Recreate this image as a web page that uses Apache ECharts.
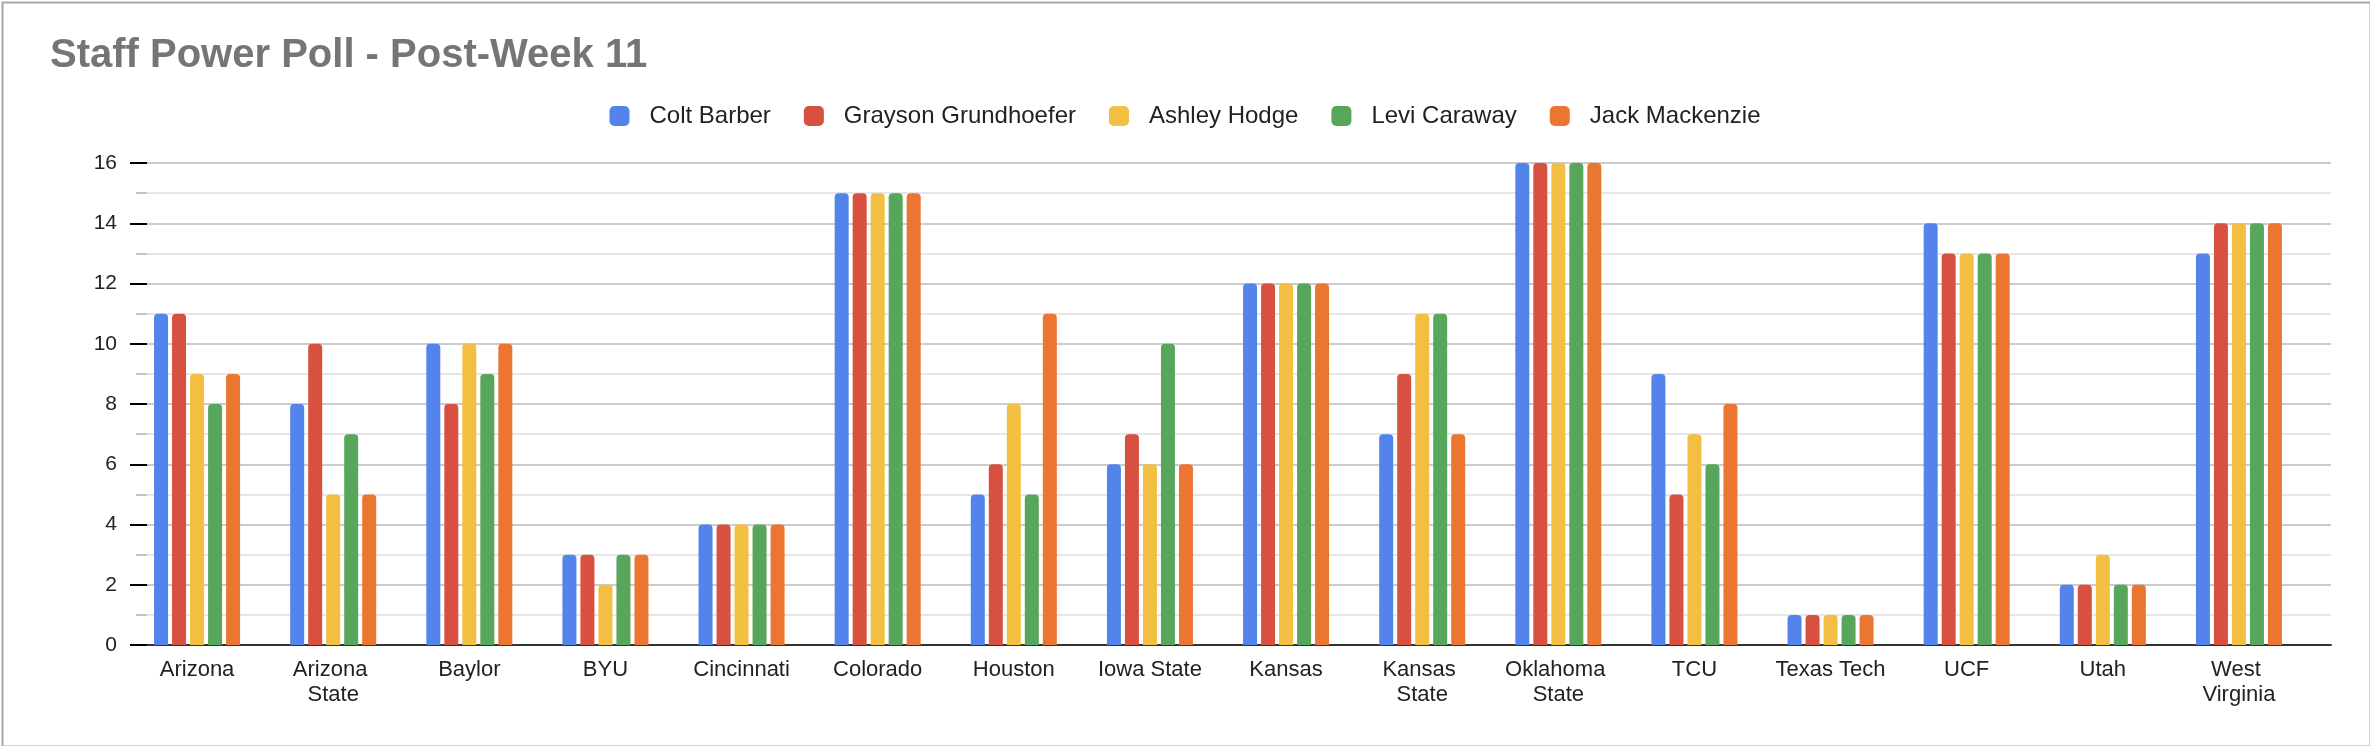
<!DOCTYPE html>
<html>
<head>
<meta charset="utf-8">
<script src="https://cdn.jsdelivr.net/npm/echarts@6/dist/echarts.min.js"></script>
<style>
html,body{margin:0;padding:0;background:#fff;}
#chart{width:2370px;height:746px;}
</style>
</head>
<body>
<div id="chart"></div>
<script>
const categories = ["Arizona","Arizona State","Baylor","BYU","Cincinnati","Colorado","Houston","Iowa State","Kansas","Kansas State","Oklahoma State","TCU","Texas Tech","UCF","Utah","West Virginia"];
const seriesNames = ["Colt Barber","Grayson Grundhoefer","Ashley Hodge","Levi Caraway","Jack Mackenzie"];
const coltBarber         = [11, 8, 10, 3, 4, 15, 5, 6, 12, 7, 16, 9, 1, 14, 2, 13];
const graysonGrundhoefer = [11, 10, 8, 3, 4, 15, 6, 7, 12, 9, 16, 5, 1, 13, 2, 14];
const ashleyHodge        = [9, 5, 10, 2, 4, 15, 8, 6, 12, 11, 16, 7, 1, 13, 3, 14];
const leviCaraway        = [8, 7, 9, 3, 4, 15, 5, 10, 12, 11, 16, 6, 1, 13, 2, 14];
const jackMackenzie      = [9, 5, 10, 3, 4, 15, 11, 6, 12, 7, 16, 8, 1, 13, 2, 14];
const yTicks = [0, 2, 4, 6, 8, 10, 12, 14, 16];
const colors = ["#5384EC", "#D85140", "#F2BF42", "#58A65C", "#EB7631"];

const FONT = '"Liberation Sans", Arial, Helvetica, sans-serif';
const allData = [coltBarber, graysonGrundhoefer, ashleyHodge, leviCaraway, jackMackenzie];

const chart = echarts.init(document.getElementById('chart'), null, {renderer: 'canvas'});
const option = {
  backgroundColor: '#ffffff',
  animation: false,
  graphic: [{
    type: 'rect', left: 0, top: 0, z: 100, silent: true,
    shape: {x: 1, y: 1, width: 2368, height: 744},
    style: {fill: 'none', stroke: '#a6a6a6', lineWidth: 2}
  }],
  title: {
    text: 'Staff Power Poll - Post-Week 11',
    left: 45, top: 31,
    textStyle: {fontFamily: FONT, fontSize: 40, fontWeight: 'bold', color: '#757575'}
  },
  legend: {
    data: seriesNames,
    top: 99, left: 'center',
    itemWidth: 20, itemHeight: 20, itemGap: 33,
    icon: 'roundRect',
    textStyle: {fontFamily: FONT, fontSize: 24, color: '#222', padding: [0, 0, 0, 15]}
  },
  grid: [
    {left: 147, right: 39, top: 163, bottom: 101, containLabel: false},
    {left: 129, right: 63, top: 163, bottom: 101, containLabel: false}
  ],
  xAxis: [
    {gridIndex: 0, type: 'value', min: 0, max: 1, show: true,
     axisLine: {show: true, onZero: false, lineStyle: {color: '#333', width: 2}},
     axisTick: {show: false}, axisLabel: {show: false}, splitLine: {show: false}},
    {gridIndex: 1, type: 'category', data: categories,
     axisLine: {show: false}, axisTick: {show: false},
     axisLabel: {fontFamily: FONT, fontSize: 22, color: '#222', margin: 12, lineHeight: 25,
                 width: 122, overflow: 'break', interval: 0, align: 'center'}}
  ],
  yAxis: [
    {gridIndex: 0, type: 'value', min: yTicks[0], max: yTicks[yTicks.length - 1], interval: 2,
     axisLine: {show: false},
     axisTick: {show: true, length: 17, lineStyle: {color: '#000', width: 2}},
     minorTick: {show: true, splitNumber: 2, length: 11, lineStyle: {color: '#c4c4c4', width: 2}},
     axisLabel: {fontFamily: FONT, fontSize: 21, color: '#222', margin: 30},
     splitLine: {show: true, lineStyle: {color: '#cccccc', width: 2}},
     minorSplitLine: {show: true, lineStyle: {color: '#e6e6e6', width: 2}}},
    {gridIndex: 1, type: 'value', min: yTicks[0], max: yTicks[yTicks.length - 1], interval: 2, show: false,
     splitLine: {show: false}}
  ],
  series: seriesNames.map((name, i) => ({
    name: name,
    type: 'bar',
    xAxisIndex: 1, yAxisIndex: 1,
    data: allData[i],
    barWidth: 14,
    barGap: '28.6%',
    itemStyle: {color: colors[i], borderRadius: [4, 4, 0, 0]},
    z: 3
  }))
};
chart.setOption(option);
</script>
</body>
</html>
